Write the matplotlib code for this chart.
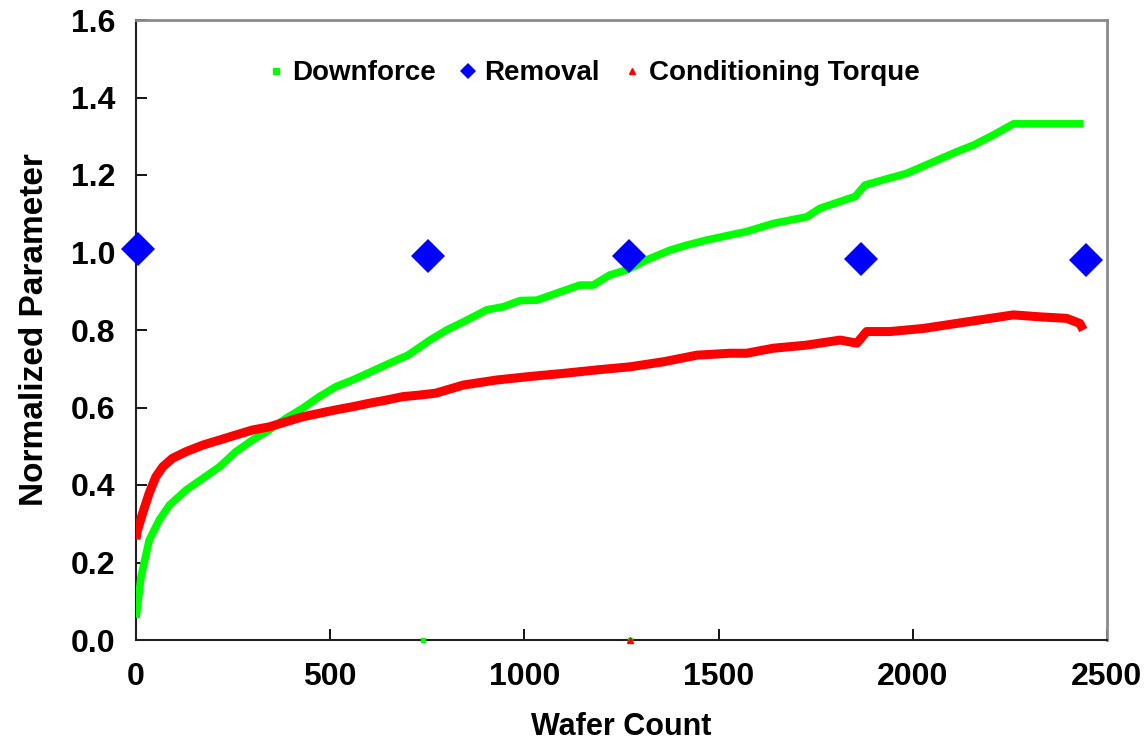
import matplotlib
matplotlib.use("Agg")
import matplotlib.pyplot as plt
from matplotlib.lines import Line2D

plt.rcParams['font.family'] = ['Liberation Sans', 'DejaVu Sans']
plt.rcParams['font.weight'] = 'bold'

# Downforce (green)
downforce_x = [0, 13, 34, 60, 86, 129, 172, 215, 257, 300, 343, 386, 429, 472, 515, 558,
               600, 650, 700, 757, 800, 843, 903, 946, 989, 1032, 1083, 1143, 1177, 1220,
               1263, 1315, 1375, 1418, 1469, 1529, 1572, 1641, 1727, 1761, 1838, 1851,
               1877, 1933, 1984, 2053, 2113, 2156, 2207, 2259, 2300, 2350, 2400, 2439]
downforce_y = [0.057, 0.163, 0.258, 0.31, 0.348, 0.387, 0.417, 0.447, 0.486, 0.516, 0.542,
               0.572, 0.598, 0.628, 0.654, 0.671, 0.69, 0.713, 0.735, 0.774, 0.80, 0.821,
               0.852, 0.86, 0.876, 0.877, 0.895, 0.916, 0.916, 0.942, 0.955, 0.981, 1.006,
               1.019, 1.032, 1.045, 1.054, 1.075, 1.092, 1.114, 1.14, 1.144, 1.174, 1.19,
               1.204, 1.234, 1.26, 1.277, 1.303, 1.332, 1.332, 1.332, 1.332, 1.332]
downforce_zero_x = [738, 1272]
downforce_zero_y = [0.0, 0.0]

# Conditioning torque (red)
torque_x = [0, 3, 17, 34, 51, 69, 94, 129, 172, 215, 257, 300, 343, 386, 429, 472, 515,
            558, 601, 644, 687, 729, 772, 843, 929, 1014, 1100, 1186, 1272, 1358, 1444,
            1529, 1572, 1641, 1727, 1813, 1856, 1881, 1941, 2027, 2113, 2199, 2259, 2327,
            2396, 2430, 2439]
torque_y = [0.26, 0.28, 0.327, 0.379, 0.421, 0.447, 0.469, 0.486, 0.503, 0.516, 0.529,
            0.542, 0.55, 0.563, 0.576, 0.585, 0.594, 0.602, 0.611, 0.619, 0.628, 0.632,
            0.637, 0.658, 0.671, 0.68, 0.688, 0.697, 0.705, 0.718, 0.735, 0.74, 0.74,
            0.753, 0.761, 0.774, 0.766, 0.796, 0.796, 0.804, 0.817, 0.83, 0.839, 0.834,
            0.83, 0.817, 0.80]
torque_zero_x = [1272]
torque_zero_y = [0.0]

# Removal (blue diamonds)
removal_x = [6, 752, 1269, 1866, 2446]
removal_y = [1.009, 0.992, 0.992, 0.984, 0.981]

x_ticks = [0, 500, 1000, 1500, 2000, 2500]
y_ticks = [0.0, 0.2, 0.4, 0.6, 0.8, 1.0, 1.2, 1.4, 1.6]

green = '#00ff00'
red = '#ff0000'
blue = '#0000ff'

fig = plt.figure(figsize=(11.46, 7.43), dpi=100)
ax = fig.add_axes([136/1146, 1 - 640/743, (1107-136)/1146, (640-20)/743])

ax.plot(downforce_x, downforce_y, color=green, lw=5.5, solid_capstyle='butt', zorder=3)
ax.plot(downforce_zero_x, downforce_zero_y, ls='none', marker='s', ms=3.5, color=green,
        zorder=3, clip_on=False)
ax.plot(torque_x, torque_y, color=red, lw=6.5, solid_capstyle='butt', zorder=4)
ax.plot(torque_zero_x, torque_zero_y, ls='none', marker='^', ms=4, color=red,
        zorder=4, clip_on=False)
ax.plot(removal_x, removal_y, ls='none', marker='D', ms=17.5, color=blue, mec=blue,
        mew=0, zorder=5, clip_on=False)

ax.set_xlim(0, 2500)
ax.set_ylim(0, 1.6)
ax.set_xticks(x_ticks)
ax.set_xticklabels([str(v) for v in x_ticks])
ax.set_yticks(y_ticks)
ax.set_yticklabels([f"{v:.1f}" for v in y_ticks])
ax.tick_params(axis='both', direction='in', length=8, width=1.3, labelsize=23,
               top=False, right=False)
ax.tick_params(axis='x', pad=16)
ax.tick_params(axis='y', pad=15)
for lab in ax.get_xticklabels() + ax.get_yticklabels():
    lab.set_fontweight('bold')

ax.spines['left'].set_color('#202020')
ax.spines['bottom'].set_color('#202020')
ax.spines['left'].set_linewidth(1.5)
ax.spines['bottom'].set_linewidth(1.5)
ax.spines['top'].set_color('#8a8a8a')
ax.spines['right'].set_color('#8a8a8a')
ax.spines['top'].set_linewidth(2)
ax.spines['right'].set_linewidth(2)

ax.set_xlabel('Wafer Count', fontsize=22, fontweight='bold', labelpad=14)
ax.set_ylabel('Normalized Parameter', fontsize=24, fontweight='bold', labelpad=15)

handles = [
    Line2D([], [], ls='none', marker='s', ms=4, color=green),
    Line2D([], [], ls='none', marker='D', ms=8, color=blue, mew=0),
    Line2D([], [], ls='none', marker='^', ms=4, color=red),
]
labels = ['Downforce', 'Removal', 'Conditioning Torque']
leg = ax.legend(handles, labels, loc='center', bbox_to_anchor=(0.471, 0.914),
                ncol=3, frameon=False, handlelength=0.6,
                handletextpad=0.3, columnspacing=0.85,
                prop={'weight': 'bold', 'size': 20})

fig.savefig('out.png', dpi=100)
